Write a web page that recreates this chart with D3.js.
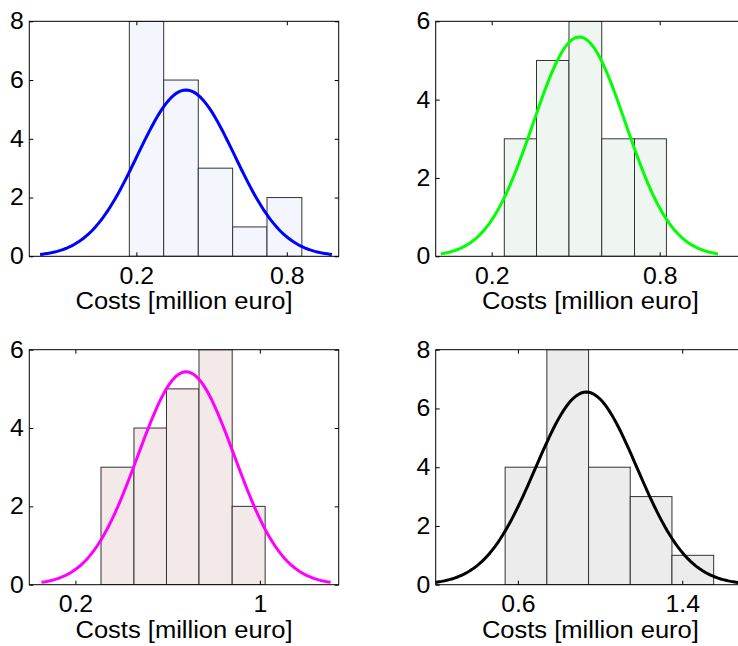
<!DOCTYPE html>
<html>
<head>
<meta charset="utf-8">
<script src="https://cdn.jsdelivr.net/npm/d3@7"></script>
<style>
  body { margin: 0; background: #fff; }
  svg { display: block; font-family: "Liberation Sans", Arial, sans-serif; }
</style>
</head>
<body>
<svg id="chart" width="738" height="646"></svg>
<script>
// histogram counts per panel (top-left, top-right, bottom-left, bottom-right)
var counts = [
  [8, 6, 3, 1, 2],
  [3, 5, 6, 3, 3],
  [3, 4, 5, 6, 2],
  [4, 8, 4, 3, 1]
];
var binEdges = [
  [0.172, 0.309, 0.447, 0.584, 0.721, 0.860],
  [0.245, 0.360, 0.476, 0.593, 0.710, 0.824],
  [0.311, 0.454, 0.595, 0.736, 0.880, 1.023],
  [0.538, 0.741, 0.944, 1.147, 1.350, 1.553]
];
// fitted normal curve parameters
var fitMean = [0.398, 0.513, 0.680, 0.933];
var fitSigma = [0.194, 0.165, 0.209, 0.247];

var xDomains = [[-0.227, 1.007], [0, 1.105], [0, 1.342], [0.2, 1.706]];
var yMax = [8, 6, 6, 8];
var xTicks = [[0.2, 0.8], [0.2, 0.8], [0.2, 1], [0.6, 1.4]];
var yTicks = [[0, 2, 4, 6, 8], [0, 2, 4, 6], [0, 2, 4, 6], [0, 2, 4, 6, 8]];
var barFill = ['#f3f7fd', '#eff5f0', '#f3e9e8', '#ececec'];
var lineColor = ['#0000ff', '#00ff00', '#ff00ff', '#000000'];
var xLabel = 'Costs [million euro]';

var pos = [
  {left: 29.3, top: 21.3},
  {left: 435.7, top: 21.3},
  {left: 29.3, top: 349.7},
  {left: 435.7, top: 349.7}
];
var width = 309.4;
var height = 235;
var fontSize = 23;
var stretch = 1.08;

var svg = d3.select('#chart');

pos.forEach(function(p, k) {
  var g = svg.append('g').attr('transform', 'translate(' + p.left + ',' + p.top + ')');

  var x = d3.scaleLinear().domain(xDomains[k]).range([0, width]);
  var y = d3.scaleLinear().domain([0, yMax[k]]).range([height, 0]);

  g.append('clipPath').attr('id', 'clip' + k)
    .append('rect').attr('width', width).attr('height', height);

  var plot = g.append('g').attr('clip-path', 'url(#clip' + k + ')');

  var bins = counts[k].map(function(c, i) {
    return {x0: binEdges[k][i], x1: binEdges[k][i + 1], n: c};
  });

  plot.selectAll('rect.bar')
    .data(bins)
    .enter().append('rect')
    .attr('class', 'bar')
    .attr('x', d => x(d.x0))
    .attr('y', d => y(d.n))
    .attr('width', d => x(d.x1) - x(d.x0))
    .attr('height', d => y(0) - y(d.n))
    .attr('fill', barFill[k])
    .attr('stroke', '#333')
    .attr('stroke-width', 1);

  // normal fit scaled to the histogram
  var total = d3.sum(counts[k]);
  var bw = (binEdges[k][binEdges[k].length - 1] - binEdges[k][0]) / counts[k].length;
  var m = fitMean[k], s = fitSigma[k];
  var pts = d3.range(-3, 3.001, 0.05).map(function(z) {
    return [m + z * s, total * bw / (s * Math.sqrt(2 * Math.PI)) * Math.exp(-z * z / 2)];
  });
  plot.append('path')
    .datum(pts)
    .attr('fill', 'none')
    .attr('stroke', lineColor[k])
    .attr('stroke-width', 3)
    .attr('d', d3.line().x(d => x(d[0])).y(d => y(d[1])));

  // axes with inward ticks
  var fmt = d => String(d);
  var bottom = g.append('g').attr('transform', 'translate(0,' + height + ')')
    .call(d3.axisBottom(x).tickValues(xTicks[k]).tickSizeInner(-4).tickSizeOuter(0).tickPadding(11).tickFormat(fmt));
  var left = g.append('g')
    .call(d3.axisLeft(y).tickValues(yTicks[k]).tickSizeInner(-4).tickSizeOuter(0).tickPadding(5).tickFormat(fmt));
  var top = g.append('g')
    .call(d3.axisTop(x).tickValues(xTicks[k]).tickSizeInner(-4).tickSizeOuter(0).tickFormat(''));
  var right = g.append('g').attr('transform', 'translate(' + width + ',0)')
    .call(d3.axisRight(y).tickValues(yTicks[k]).tickSizeInner(-4).tickSizeOuter(0).tickFormat(''));

  [bottom, left, top, right].forEach(function(a) {
    a.select('.domain').remove();
    a.selectAll('line').attr('stroke', '#000');
    a.selectAll('text').attr('fill', '#000')
      .attr('transform', 'scale(' + stretch + ',1)')
      .style('font-size', fontSize + 'px')
      .style('font-family', '"Liberation Sans", Arial, sans-serif');
  });

  g.append('rect')
    .attr('width', width).attr('height', height)
    .attr('fill', 'none').attr('stroke', '#000').attr('stroke-width', 1);

  g.append('text')
    .attr('x', width / 2)
    .attr('y', height + 53)
    .attr('text-anchor', 'middle')
    .attr('textLength', 217)
    .attr('lengthAdjust', 'spacingAndGlyphs')
    .style('font-size', fontSize + 'px')
    .text(xLabel);
});
</script>
</body>
</html>
